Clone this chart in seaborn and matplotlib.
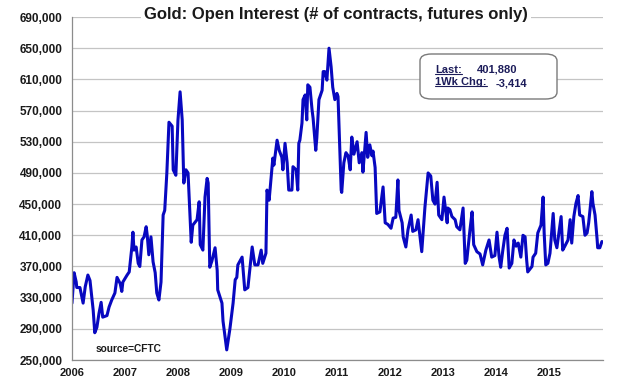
# ============================================================
# GOLD OPEN INTEREST - CFTC FUTURES ONLY
# ============================================================

import numpy as np
import pandas as pd
import matplotlib
matplotlib.use("Agg")
import matplotlib.pyplot as plt
import seaborn as sns
from matplotlib.patches import FancyBboxPatch
from matplotlib.lines import Line2D
from matplotlib.ticker import FuncFormatter

# ============================================================
# DATA (decimal years / contracts in thousands)
# ============================================================

years = [
    2006.00, 2006.04, 2006.08, 2006.09, 2006.15, 2006.21, 2006.25, 2006.30, 2006.34, 2006.38,
    2006.40, 2006.43, 2006.47, 2006.51, 2006.55, 2006.58, 2006.66, 2006.70, 2006.75, 2006.81,
    2006.85, 2006.91, 2006.94, 2006.96, 2007.04, 2007.08, 2007.13, 2007.15, 2007.17, 2007.21,
    2007.25, 2007.28, 2007.32, 2007.36, 2007.40, 2007.42, 2007.45, 2007.49, 2007.53, 2007.57,
    2007.60, 2007.64, 2007.68, 2007.72, 2007.75, 2007.79, 2007.83, 2007.89, 2007.91, 2007.96,
    2008.00, 2008.04, 2008.08, 2008.11, 2008.15, 2008.19, 2008.25, 2008.28, 2008.36, 2008.40,
    2008.42, 2008.47, 2008.51, 2008.55, 2008.57, 2008.60, 2008.64, 2008.70, 2008.74, 2008.75,
    2008.83, 2008.85, 2008.92, 2008.98, 2009.04, 2009.08, 2009.11, 2009.13, 2009.21, 2009.26,
    2009.32, 2009.40, 2009.45, 2009.51, 2009.57, 2009.60, 2009.66, 2009.68, 2009.72, 2009.77,
    2009.79, 2009.81, 2009.87, 2009.91, 2009.96, 2009.98, 2010.02, 2010.06, 2010.09, 2010.15,
    2010.17, 2010.23, 2010.26, 2010.28, 2010.30, 2010.34, 2010.36, 2010.40, 2010.43, 2010.45,
    2010.49, 2010.53, 2010.55, 2010.60, 2010.62, 2010.66, 2010.72, 2010.74, 2010.77, 2010.81,
    2010.83, 2010.85, 2010.89, 2010.92, 2010.96, 2011.00, 2011.02, 2011.08, 2011.09, 2011.13,
    2011.17, 2011.21, 2011.25, 2011.28, 2011.32, 2011.38, 2011.42, 2011.47, 2011.49, 2011.55,
    2011.58, 2011.62, 2011.66, 2011.68, 2011.72, 2011.75, 2011.81, 2011.87, 2011.91, 2011.96,
    2012.02, 2012.06, 2012.11, 2012.15, 2012.17, 2012.23, 2012.25, 2012.30, 2012.34, 2012.40,
    2012.43, 2012.49, 2012.53, 2012.60, 2012.66, 2012.72, 2012.77, 2012.81, 2012.85, 2012.89,
    2012.92, 2012.98, 2013.02, 2013.08, 2013.09, 2013.13, 2013.17, 2013.23, 2013.26, 2013.32,
    2013.38, 2013.42, 2013.45, 2013.51, 2013.55, 2013.58, 2013.64, 2013.70, 2013.75, 2013.81,
    2013.87, 2013.92, 2013.98, 2014.02, 2014.06, 2014.09, 2014.13, 2014.17, 2014.21, 2014.25,
    2014.30, 2014.34, 2014.38, 2014.42, 2014.47, 2014.51, 2014.55, 2014.58, 2014.60, 2014.68,
    2014.70, 2014.75, 2014.79, 2014.85, 2014.89, 2014.91, 2014.94, 2014.98, 2015.02, 2015.08,
    2015.11, 2015.15, 2015.23, 2015.26, 2015.30, 2015.36, 2015.40, 2015.43, 2015.47, 2015.51,
    2015.55, 2015.58, 2015.64, 2015.68, 2015.72, 2015.75, 2015.81, 2015.83, 2015.87, 2015.91,
    2015.92, 2015.96, 2016.00,
]

open_interest_k = [
    323, 362, 350, 343, 343, 323, 344, 359, 352, 327,
    314, 285, 292, 310, 324, 305, 307, 318, 327, 336,
    356, 348, 338, 350, 359, 363, 395, 414, 391, 395,
    374, 370, 404, 408, 421, 410, 385, 408, 376, 362,
    336, 327, 350, 436, 442, 490, 555, 550, 494, 487,
    558, 594, 558, 477, 494, 490, 401, 423, 430, 453,
    398, 391, 459, 483, 477, 369, 377, 394, 365, 340,
    323, 300, 263, 290, 323, 353, 356, 372, 382, 340,
    343, 395, 372, 372, 391, 374, 387, 468, 455, 494,
    509, 500, 532, 519, 510, 494, 528, 503, 468, 468,
    498, 494, 468, 528, 532, 554, 584, 590, 558, 603,
    600, 571, 560, 519, 535, 584, 596, 620, 620, 609,
    630, 650, 626, 600, 584, 592, 588, 468, 465, 503,
    516, 512, 494, 536, 514, 530, 503, 516, 491, 542,
    510, 526, 512, 518, 497, 438, 440, 472, 426, 424,
    419, 432, 433, 481, 442, 426, 408, 395, 417, 436,
    415, 417, 430, 389, 446, 490, 486, 455, 450, 478,
    436, 430, 459, 426, 445, 443, 434, 430, 421, 417,
    445, 374, 378, 417, 440, 398, 389, 386, 372, 391,
    404, 382, 384, 414, 382, 369, 391, 410, 419, 368,
    374, 404, 396, 400, 382, 410, 408, 378, 363, 370,
    382, 387, 413, 423, 459, 413, 372, 374, 387, 438,
    404, 394, 434, 391, 396, 404, 430, 400, 434, 451,
    461, 436, 434, 410, 413, 426, 466, 451, 436, 404,
    394, 394, 402,
]

year_ticks = [2006, 2007, 2008, 2009, 2010, 2011, 2012, 2013, 2014, 2015]
value_ticks = [250000, 290000, 330000, 370000, 410000, 450000,
               490000, 530000, 570000, 610000, 650000, 690000]

title_text = "Gold: Open Interest (# of contracts, futures only)"
source_text = "source=CFTC"
last_value = "401,880"
week_change = "-3,414"

df = pd.DataFrame({
    "year": years,
    "open_interest": np.array(open_interest_k) * 1000,
})

# ============================================================
# STYLE
# ============================================================

sns.set_style("white")
plt.rcParams["font.family"] = ["Liberation Sans", "DejaVu Sans"]

line_color = "#0808c0"
text_color = "#1a1a1a"
box_text_color = "#1c1c5a"

# ============================================================
# FIGURE
# ============================================================

fig = plt.figure(figsize=(6.41, 3.83), dpi=100)
ax = fig.add_axes([0.1123, 0.060, 0.8284, 0.8956])

sns.lineplot(
    data=df,
    x="year",
    y="open_interest",
    ax=ax,
    color=line_color,
    linewidth=2.2,
)

ax.set_xlim(2006, 2016.02)
ax.set_ylim(250000, 690000)

ax.set_xticks(year_ticks)
ax.set_xticklabels([str(y) for y in year_ticks])
ax.set_yticks(value_ticks)
ax.yaxis.set_major_formatter(FuncFormatter(lambda v, p: f"{int(v):,}"))

ax.set_xlabel("")
ax.set_ylabel("")

ax.grid(axis="y", color="#c4c4c4", linewidth=0.9)
ax.set_axisbelow(True)

for side in ["top", "right"]:
    ax.spines[side].set_visible(False)
for side in ["left", "bottom"]:
    ax.spines[side].set_color("#8c8c8c")
    ax.spines[side].set_linewidth(0.9)

ax.tick_params(axis="y", direction="out", length=4, width=0.8, color="#8c8c8c",
               labelsize=8.5, labelcolor=text_color, pad=3)
ax.tick_params(axis="x", direction="out", length=3, width=0.8, color="#8c8c8c",
               labelsize=8, labelcolor=text_color, pad=2.5)
for lbl in ax.get_xticklabels() + ax.get_yticklabels():
    lbl.set_fontweight("bold")

# ============================================================
# TITLE / SOURCE
# ============================================================

fig.text(
    336 / 641, 1 - 14 / 383, title_text,
    ha="center", va="center", fontsize=12, fontweight="bold", color=text_color,
    bbox=dict(facecolor="white", edgecolor="none", pad=2),
)

fig.text(96 / 641, 1 - 349 / 383, source_text,
         ha="left", va="center", fontsize=7.3, fontweight="bold", color=text_color)

# ============================================================
# LAST VALUE BOX
# ============================================================

box = FancyBboxPatch(
    (420 / 641, 1 - 99 / 383), 137 / 641, 45 / 383,
    boxstyle="round,pad=0,rounding_size=0.018",
    transform=fig.transFigure,
    facecolor="white", edgecolor="#7a7a7a", linewidth=1.0,
)
fig.patches.append(box)

t_last = fig.text(435 / 641, 1 - 70 / 383, "Last:", ha="left", va="center",
                  fontsize=8, fontweight="bold", color=box_text_color)
fig.text(477 / 641, 1 - 70 / 383, last_value, ha="left", va="center",
         fontsize=8, fontweight="bold", color=box_text_color)
t_chg = fig.text(435 / 641, 1 - 82 / 383, "1Wk Chg:", ha="left", va="center",
                 fontsize=8, fontweight="bold", color=box_text_color)
fig.text(496 / 641, 1 - 83 / 383, week_change, ha="left", va="center",
         fontsize=8, fontweight="bold", color=box_text_color)

# underline the two labels
fig.canvas.draw()
renderer = fig.canvas.get_renderer()
for t in [t_last, t_chg]:
    bb = t.get_window_extent(renderer).transformed(fig.transFigure.inverted())
    yl = bb.y0 + 0.1 * (bb.y1 - bb.y0)
    fig.lines.append(Line2D([bb.x0, bb.x1], [yl, yl], transform=fig.transFigure,
                            color=box_text_color, linewidth=0.8))

fig.savefig("out.png", dpi=100)
